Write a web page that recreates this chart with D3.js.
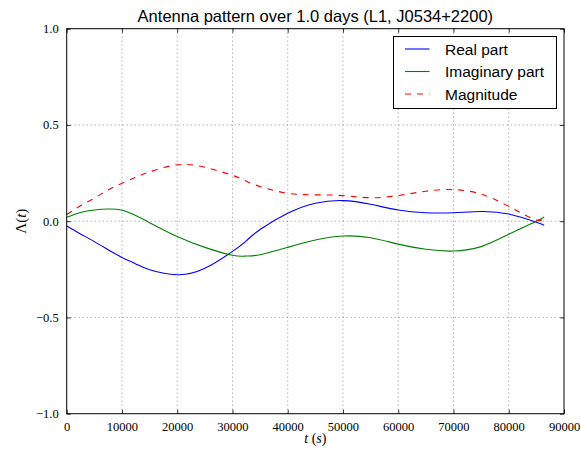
<!DOCTYPE html>
<html>
<head>
<meta charset="utf-8">
<script src="https://cdn.jsdelivr.net/npm/d3@7"></script>
<style>
  html, body { margin: 0; padding: 0; background: #fff; }
  svg { display: block; }
</style>
</head>
<body>
<svg id="chart" width="581" height="452"></svg>
<script>
// Sample times (s) over one day
const times = [0, 2500, 5000, 7500, 10000, 12500, 15000, 20000, 25000, 30000, 32500, 35000, 40000, 45000,
               50000, 55000, 60000, 65000, 70000, 75000, 80000, 85000, 86400];
// Real part of the antenna pattern
const realPart = [-0.025, -0.066, -0.106, -0.148, -0.188, -0.222, -0.252, -0.278, -0.245, -0.157, -0.102, -0.043, 0.041, 0.093,
                  0.107, 0.088, 0.058, 0.044, 0.044, 0.05, 0.037, -0.006, -0.021];
// Imaginary part
const imagPart = [0.02, 0.045, 0.058, 0.063, 0.057, 0.029, -0.008, -0.08, -0.136, -0.177, -0.181, -0.174, -0.136, -0.098,
                  -0.077, -0.086, -0.119, -0.146, -0.155, -0.132, -0.068, 0.0, 0.022];
// Magnitude
const magnitude = [0.035, 0.08, 0.12, 0.162, 0.197, 0.228, 0.256, 0.293, 0.28, 0.238, 0.208, 0.18, 0.145, 0.137,
                   0.133, 0.122, 0.133, 0.156, 0.164, 0.141, 0.077, 0.006, 0.029];

const xTicks = [0, 10000, 20000, 30000, 40000, 50000, 60000, 70000, 80000, 90000];
const yTicks = [-1.0, -0.5, 0.0, 0.5, 1.0];
const seriesNames = ["Real part", "Imaginary part", "Magnitude"];

const svg = d3.select("#chart");
const L = 66.7, R = 564, T = 28.7, B = 413.7;

const x = d3.scaleLinear().domain([0, 90000]).range([L, R]);
const y = d3.scaleLinear().domain([-1, 1]).range([B, T]);

// Grid
const grid = svg.append("g").attr("stroke", "#444").attr("stroke-width", 0.6)
  .attr("stroke-dasharray", "1,3");
xTicks.slice(1, -1).forEach(t => grid.append("line")
  .attr("x1", x(t)).attr("x2", x(t)).attr("y1", T).attr("y2", B));
yTicks.slice(1, -1).forEach(v => grid.append("line")
  .attr("x1", L).attr("x2", R).attr("y1", y(v)).attr("y2", y(v)));

// Series
const series = [
  { name: seriesNames[0], values: realPart, color: "#0000ff", dash: null },
  { name: seriesNames[1], values: imagPart, color: "#008000", dash: null },
  { name: seriesNames[2], values: magnitude, color: "#ff0000", dash: "6,6" }
];
const line = d3.line().x(d => x(d[0])).y(d => y(d[1])).curve(d3.curveNatural);
series.forEach(s => {
  svg.append("path")
    .datum(times.map((t, i) => [t, s.values[i]]))
    .attr("d", line)
    .attr("fill", "none")
    .attr("stroke", s.color)
    .attr("stroke-width", 1.1)
    .attr("stroke-dasharray", s.dash);
});

// Axes: ticks inward on all four sides
const fmtY = v => (v < 0 ? "\u2212" : "") + Math.abs(v).toFixed(1);
const tickStyle = g => {
  g.select(".domain").remove();
  g.selectAll(".tick line").attr("stroke", "#000").attr("stroke-width", 0.8);
  g.selectAll(".tick text").attr("font-family", "'Liberation Serif', serif")
    .attr("font-size", 12.5).attr("fill", "#000");
};
svg.append("g").attr("transform", `translate(0,${B})`)
  .call(d3.axisBottom(x).tickValues(xTicks).tickFormat(d3.format("d")).tickSizeInner(-4).tickPadding(8))
  .call(tickStyle);
svg.append("g").attr("transform", `translate(0,${T})`)
  .call(d3.axisTop(x).tickValues(xTicks).tickFormat("").tickSizeInner(-4))
  .call(tickStyle);
svg.append("g").attr("transform", `translate(${L},0)`)
  .call(d3.axisLeft(y).tickValues(yTicks).tickFormat(fmtY).tickSizeInner(-4).tickPadding(8))
  .call(tickStyle);
svg.append("g").attr("transform", `translate(${R},0)`)
  .call(d3.axisRight(y).tickValues(yTicks).tickFormat("").tickSizeInner(-4))
  .call(tickStyle);

// Frame
svg.append("rect").attr("x", L).attr("y", T).attr("width", R - L).attr("height", B - T)
  .attr("fill", "none").attr("stroke", "#000").attr("stroke-width", 1);

// Title
svg.append("text").attr("x", (L + R) / 2).attr("y", 22).attr("text-anchor", "middle")
  .attr("font-family", "'Liberation Sans', Arial, sans-serif").attr("font-size", 16.5)
  .text("Antenna pattern over 1.0 days (L1, J0534+2200)");

// Axis labels
const xl = svg.append("text").attr("x", (L + R) / 2).attr("y", 443).attr("text-anchor", "middle")
  .attr("font-family", "'Liberation Serif', serif").attr("font-size", 14);
xl.append("tspan").attr("font-style", "italic").text("t");
xl.append("tspan").text(" (");
xl.append("tspan").attr("font-style", "italic").text("s");
xl.append("tspan").text(")");

const yl = svg.append("text").attr("transform", `translate(26,${(T + B) / 2}) rotate(-90)`)
  .attr("text-anchor", "middle")
  .attr("font-family", "'Liberation Serif', serif").attr("font-size", 15);
yl.append("tspan").text("\u039B(");
yl.append("tspan").attr("font-style", "italic").text("t");
yl.append("tspan").text(")");

// Legend
const lg = svg.append("g");
lg.append("rect").attr("x", 393.5).attr("y", 36.5).attr("width", 163).attr("height", 72)
  .attr("fill", "#fff").attr("stroke", "#000").attr("stroke-width", 1);
series.forEach((s, i) => {
  const yy = 49 + i * 22.5;
  lg.append("line").attr("x1", 405).attr("x2", 429.5).attr("y1", yy).attr("y2", yy)
    .attr("stroke", s.color).attr("stroke-width", 1.1).attr("stroke-dasharray", s.dash);
  lg.append("text").attr("x", 445).attr("y", yy + 5.5)
    .attr("font-family", "'Liberation Sans', Arial, sans-serif").attr("font-size", 15.5)
    .text(s.name);
});
</script>
</body>
</html>
